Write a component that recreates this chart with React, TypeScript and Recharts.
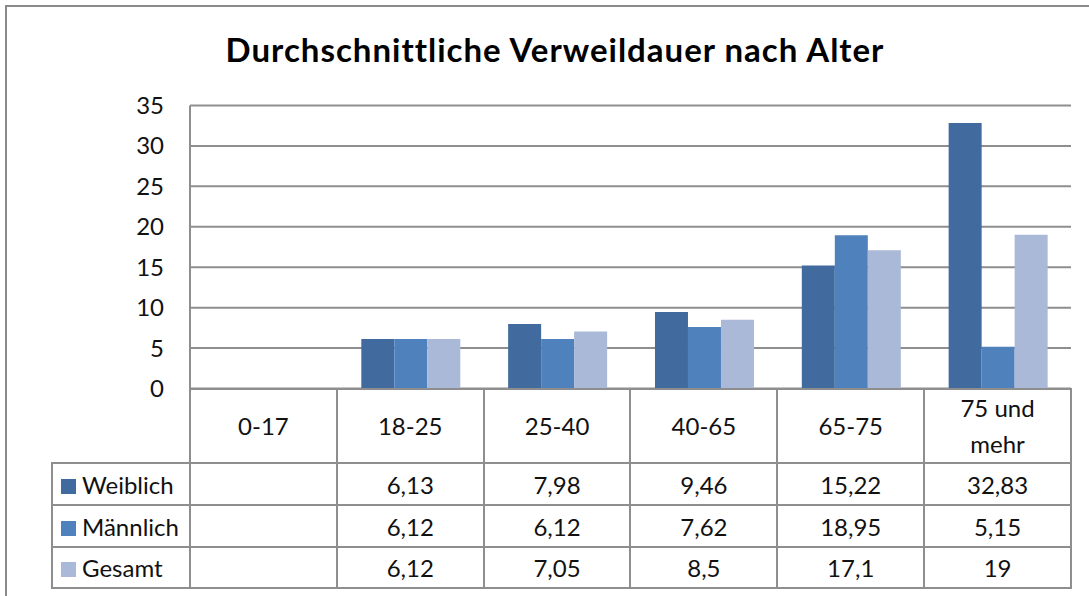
import { Bar, BarChart, CartesianGrid, XAxis, YAxis } from "recharts"

const categories = ["0-17", "18-25", "25-40", "40-65", "65-75", "75 und mehr"]
const weiblich = [null, 6.13, 7.98, 9.46, 15.22, 32.83]
const maennlich = [null, 6.12, 6.12, 7.62, 18.95, 5.15]
const gesamt = [null, 6.12, 7.05, 8.5, 17.1, 19]
const yTicks = [0, 5, 10, 15, 20, 25, 30, 35]

const series = [
  { key: "weiblich", name: "Weiblich", values: weiblich, color: "#416A9E" },
  { key: "maennlich", name: "Männlich", values: maennlich, color: "#4F81BD" },
  { key: "gesamt", name: "Gesamt", values: gesamt, color: "#AAB9D7" },
]

const chartData = categories.map((category, i) => ({
  category,
  weiblich: weiblich[i],
  maennlich: maennlich[i],
  gesamt: gesamt[i],
}))

const fmt = (v: number | null) => (v == null ? "" : String(v).replace(".", ","))

const LINE = "2px solid #8e8e8e"
const FONT = "Lato, 'Noto Sans', sans-serif"

export default function App() {
  const cell: React.CSSProperties = {
    border: LINE,
    textAlign: "center",
    padding: 0,
    fontSize: 24,
    color: "#111",
  }
  return (
    <div
      style={{
        position: "absolute",
        left: 0,
        top: 0,
        width: 1089,
        height: 596,
        overflow: "hidden",
        background: "#fff",
        fontFamily: FONT,
      }}
    >
      <div
        style={{
          position: "absolute",
          left: 5,
          top: 5,
          width: 1120,
          height: 620,
          border: "2px solid #8a8a8a",
        }}
      />
      <div
        style={{
          position: "absolute",
          left: 20,
          width: 1070,
          top: 31,
          lineHeight: "37px",
          fontSize: 33,
          letterSpacing: 1,
          fontWeight: 700,
          textAlign: "center",
          color: "#000",
        }}
      >
        Durchschnittliche Verweildauer nach Alter
      </div>
      <div style={{ position: "absolute", left: 0, top: 0 }}>
        <BarChart
          width={1089}
          height={596}
          data={chartData}
          margin={{ top: 105.5, right: 18, bottom: 207.5, left: 130 }}
          barCategoryGap="16.67%"
          barGap={0}
        >
          <CartesianGrid vertical={false} stroke="#8e8e8e" strokeWidth={2} />
          <XAxis dataKey="category" hide />
          <YAxis
            width={60}
            domain={[0, 35]}
            ticks={yTicks}
            interval={0}
            tickLine={false}
            tickSize={0}
            tickMargin={26}
            axisLine={{ stroke: "#8e8e8e", strokeWidth: 2 }}
            tick={{ fontSize: 24, fill: "#111", fontFamily: FONT }}
          />
          {series.map((s) => (
            <Bar key={s.key} dataKey={s.key} name={s.name} fill={s.color} isAnimationActive={false} />
          ))}
        </BarChart>
      </div>
      <table
        style={{
          position: "absolute",
          left: 51,
          top: 388,
          width: 1021,
          borderCollapse: "collapse",
          tableLayout: "fixed",
          fontFamily: FONT,
        }}
      >
        <colgroup>
          <col style={{ width: 138 }} />
          {categories.map((c) => (
            <col key={c} style={{ width: 881 / categories.length }} />
          ))}
        </colgroup>
        <tbody>
          <tr style={{ height: 74 }}>
            <td style={{ ...cell, borderTop: "none", borderLeft: "none" }} />
            {categories.map((c) => (
              <td key={c} style={{ ...cell, lineHeight: "36px" }}>
                <div style={{ width: 110, margin: "0 auto" }}>{c}</div>
              </td>
            ))}
          </tr>
          {series.map((s, r) => (
            <tr key={s.key} style={{ height: r === 2 ? 41 : 42 }}>
              <td style={{ ...cell, textAlign: "left", whiteSpace: "nowrap" }}>
                <span
                  style={{
                    display: "inline-block",
                    width: 15,
                    height: 15,
                    background: s.color,
                    marginLeft: 8,
                    marginRight: 6,
                  }}
                />
                {s.name}
              </td>
              {s.values.map((v, i) => (
                <td key={i} style={cell}>
                  {fmt(v)}
                </td>
              ))}
            </tr>
          ))}
        </tbody>
      </table>
    </div>
  )
}
